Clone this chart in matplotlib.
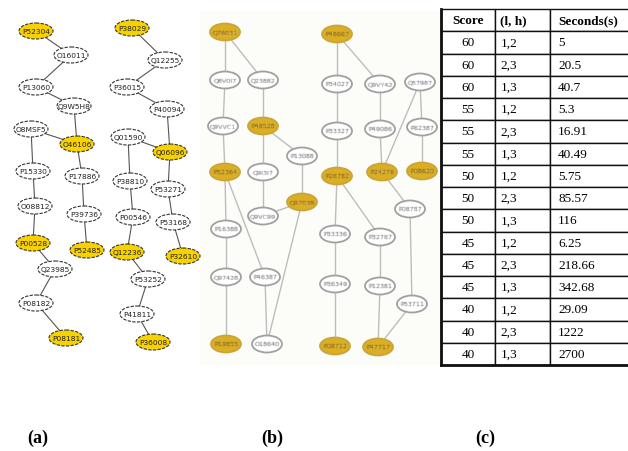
import numpy as np
import matplotlib
matplotlib.use("Agg")
import matplotlib.pyplot as plt
from matplotlib.patches import Ellipse, Rectangle

W, H = 628, 452

# ---- panel (a): two protein chains ----
a_nodes = ["P52304", "O16011", "P13060", "Q9W5H8", "O8MSF5", "O46106", "P15330",
           "P17886", "O08812", "P39736", "P00528", "P52485", "Q23985", "P08182",
           "P08181",
           "P38029", "Q12255", "P36015", "P40094", "Q01590", "Q06096", "P38810",
           "P53271", "P00546", "P53168", "Q12236", "P32610", "P53252", "P41811",
           "P36008"]
a_hits = ["P52304", "O46106", "P00528", "P52485", "P08181",
          "P38029", "Q06096", "Q12236", "P32610", "P36008"]
a_edges = [("P52304", "O16011"), ("O16011", "P13060"), ("P13060", "Q9W5H8"),
           ("Q9W5H8", "O46106"), ("O8MSF5", "O46106"), ("O8MSF5", "P15330"),
           ("O46106", "P17886"), ("P15330", "O08812"), ("O08812", "P00528"),
           ("P17886", "P39736"), ("P39736", "P52485"), ("P00528", "Q23985"),
           ("Q23985", "P08182"), ("P08182", "P08181"),
           ("P38029", "Q12255"), ("Q12255", "P36015"), ("P36015", "P40094"),
           ("P40094", "Q06096"), ("Q01590", "Q06096"), ("Q01590", "P38810"),
           ("Q06096", "P53271"), ("P38810", "P00546"), ("P53271", "P53168"),
           ("P00546", "Q12236"), ("P53168", "P32610"), ("Q12236", "P53252"),
           ("P53252", "P41811"), ("P41811", "P36008")]

# ---- panel (b): blurred network ----
b_nodes = ["Q76031", "Q8V0I7", "Q23882", "Q9VVC1", "P48528", "P13088", "P52364",
           "Q9I3I7", "Q97038", "Q9VC99", "P16388", "Q97428", "P46387", "P19855",
           "O18640",
           "P48667", "P34027", "Q9VY42", "Q57987", "P33327", "P49086", "P62387",
           "P26782", "P24276", "P08620", "P08787", "P33336", "P32767", "P36349",
           "P12381", "P53711", "P08712", "P47717"]
b_hits = ["Q76031", "P48528", "P52364", "Q97038", "P19855",
          "P48667", "P26782", "P24276", "P08620", "P08712", "P47717"]
b_edges = [("Q76031", "Q8V0I7"), ("Q76031", "Q23882"), ("Q8V0I7", "Q9VVC1"),
           ("Q23882", "P48528"), ("Q9VVC1", "P52364"), ("P48528", "Q9I3I7"),
           ("P48528", "P13088"), ("P13088", "Q97038"), ("Q9I3I7", "Q9VC99"),
           ("Q9VC99", "Q97038"), ("P52364", "P16388"), ("P52364", "P46387"),
           ("P16388", "Q97428"), ("Q97428", "P19855"), ("P46387", "O18640"),
           ("Q97038", "O18640"),
           ("P48667", "P34027"), ("P48667", "Q9VY42"), ("P34027", "P33327"),
           ("P33327", "P26782"), ("Q9VY42", "P49086"), ("P49086", "P24276"),
           ("Q57987", "P24276"), ("Q57987", "P62387"), ("P62387", "P08620"),
           ("P24276", "P08787"), ("P26782", "P33336"), ("P26782", "P32767"),
           ("P33336", "P36349"), ("P36349", "P08712"), ("P32767", "P12381"),
           ("P12381", "P47717"), ("P08787", "P53711"), ("P53711", "P47717")]

# ---- panel (c): timing table ----
col_labels = ["Score", "(l, h)", "Seconds(s)"]
scores = [60, 60, 60, 55, 55, 55, 50, 50, 50, 45, 45, 45, 40, 40, 40]
lh = ["1,2", "2,3", "1,3"] * 5
seconds = ["5", "20.5", "40.7", "5.3", "16.91", "40.49", "5.75", "85.57", "116",
           "6.25", "218.66", "342.68", "29.09", "1222", "2700"]
panel_tags = ["(a)", "(b)", "(c)"]

# layout (pixel positions of the nodes as drawn in the figure)
a_pos = dict(zip(a_nodes, [
    (36, 32), (71, 56), (36, 88), (74, 107), (31, 130), (77, 145), (33, 172),
    (82, 177), (35, 207), (84, 215), (33, 244), (87, 251), (55, 270), (36, 304),
    (66, 339),
    (132, 29), (165, 61), (127, 88), (167, 110), (128, 138), (170, 153),
    (130, 182), (168, 190), (133, 218), (173, 223), (127, 253), (183, 257),
    (148, 280), (137, 315), (153, 343)]))
b_pos = dict(zip(b_nodes, [
    (225, 33), (225, 81), (263, 81), (223, 127), (263, 127), (302, 157),
    (225, 173), (263, 173), (302, 203), (263, 217), (226, 230), (226, 278),
    (265, 278), (226, 345), (267, 345),
    (337, 35), (337, 85), (380, 85), (420, 83), (337, 132), (380, 130),
    (422, 128), (337, 177), (382, 173), (422, 172), (410, 210), (335, 235),
    (380, 238), (335, 285), (380, 287), (412, 305), (335, 347), (378, 348)]))


def blur(im, dpi):
    pad = 3
    a = np.pad(im, ((pad, pad), (pad, pad), (0, 0)))
    out = a * 4
    for dy, dx in [(-1, 0), (1, 0), (0, -1), (0, 1)]:
        out += np.roll(np.roll(a, dy, 0), dx, 1)
    return out / 8, -pad, -pad


fig = plt.figure(figsize=(W / 100, H / 100), dpi=100)
ax = fig.add_axes([0, 0, 1, 1])
ax.set_xlim(0, W)
ax.set_ylim(H, 0)
ax.axis("off")

# panel (a)
for u, v in a_edges:
    (x1, y1), (x2, y2) = a_pos[u], a_pos[v]
    ax.plot([x1, x2], [y1, y2], color="#555555", lw=0.8, zorder=1)
for n in a_nodes:
    x, y = a_pos[n]
    fc = "#f7d200" if n in a_hits else "white"
    ax.add_patch(Ellipse((x, y), 34, 16, fc=fc, ec="#333333", lw=0.8,
                         ls=(0, (3, 1.2)), zorder=2))
    ax.text(x, y, n, ha="center", va="center", fontsize=5.4, color="#222222",
            family="DejaVu Sans", zorder=3)

# panel (b)
ax.add_patch(Rectangle((200, 12), 240, 354, fc="#fcfcf8", ec="none", zorder=0))
for u, v in b_edges:
    (x1, y1), (x2, y2) = b_pos[u], b_pos[v]
    ax.plot([x1, x2], [y1, y2], color="#bdbdbd", lw=1.0, zorder=1)
for n in b_nodes:
    x, y = b_pos[n]
    hit = n in b_hits
    ax.add_patch(Ellipse((x, y), 30, 17, fc="#dcae24" if hit else "white",
                         ec="#c9a63a" if hit else "#a0a0a0", lw=1.3, zorder=2))
    t = ax.text(x, y, n, ha="center", va="center", fontsize=4.6,
                color="#6a5a30" if hit else "#5c5c5c", zorder=3)
    t.set_agg_filter(blur)

# panel (c)
x0, x1, y0, y1 = 441, 632, 10, 366
rows = [[str(s), l, sec] for s, l, sec in zip(scores, lh, seconds)]
tab = ax.table(cellText=rows, colLabels=col_labels,
               colWidths=[54, 55, 82],
               bbox=[x0 / W, 1 - y1 / H, (x1 - x0) / W, (y1 - y0) / H])
tab.auto_set_font_size(False)
for (r, c), cell in tab.get_celld().items():
    cell.set_edgecolor("#111111")
    cell.set_linewidth(1.0)
    cell.set_facecolor("white")
    cell.PAD = 0.1
    txt = cell.get_text()
    txt.set_fontfamily("Liberation Serif")
    txt.set_fontsize(9.5)
    if r == 0:
        txt.set_fontweight("bold")
    if c == 0:
        cell._loc = "center"
        txt.set_ha("center")
    else:
        cell._loc = "left"
        txt.set_ha("left")
ax.plot([x0, x0], [y0, y1], color="#111111", lw=2, zorder=5)
ax.plot([x0, x1], [y1, y1], color="#111111", lw=2, zorder=5)

for tag, x in zip(panel_tags, [38, 272, 485]):
    ax.text(x, 438, tag, ha="center", va="center", fontsize=13,
            fontweight="bold", family="Liberation Serif")

fig.savefig("out.png", dpi=100)
